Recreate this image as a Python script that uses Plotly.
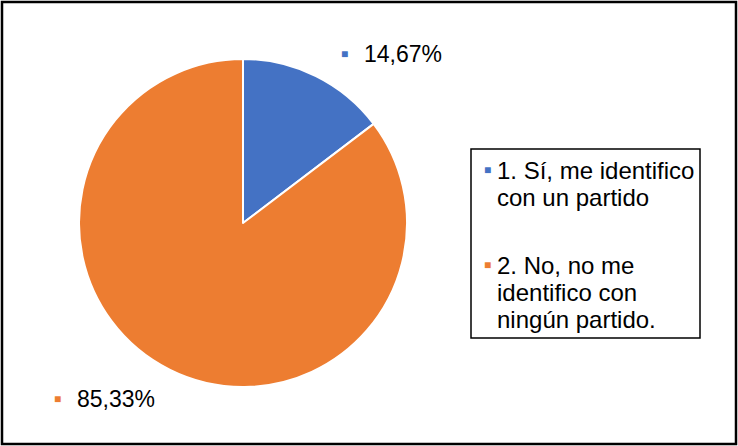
import plotly.graph_objects as go

labels = ["1. Sí, me identifico con un partido", "2. No, no me identifico con ningún partido."]
legend_lines = [["1. Sí, me identifico", "con un partido"],
                ["2. No, no me", "identifico con", "ningún partido."]]
values = [14.67, 85.33]
colors = ["#4472C4", "#ED7D31"]

W, H = 738, 446
FONT = "Liberation Sans, Arial, sans-serif"


def px(x):
    return x / W


def py(y):
    return 1 - y / H


fig = go.Figure()

fig.add_trace(go.Pie(
    labels=labels,
    values=values,
    sort=False,
    direction="clockwise",
    rotation=0,
    textinfo="none",
    hoverinfo="label+percent",
    marker=dict(colors=colors, line=dict(color="white", width=2)),
    domain=dict(x=[px(79), px(407)], y=[py(387), py(59)]),
    showlegend=False,
))

annotations = []
shapes = []

# data labels with small square markers
label_pos = [(344, 54), (57, 399)]
for v, c, (lx, ly) in zip(values, colors, label_pos):
    txt = f"{v:.2f}".replace(".", ",") + "%"
    annotations.append(dict(
        x=px(lx), y=py(ly), xref="paper", yref="paper",
        xanchor="center", yanchor="middle", showarrow=False,
        text=f"<span style='color:{c}'>■</span>",
        font=dict(family=FONT, size=12),
    ))
    annotations.append(dict(
        x=px(lx + 18), y=py(ly), xref="paper", yref="paper",
        xanchor="left", yanchor="middle", showarrow=False,
        text=txt, font=dict(family=FONT, size=23, color="black"),
    ))

# custom legend box
shapes.append(dict(type="rect", xref="paper", yref="paper",
                   x0=px(471), x1=px(700), y0=py(338), y1=py(149),
                   line=dict(color="black", width=1.5), fillcolor="white"))
legend_top = [170, 265]
line_h = 27
for lines, c, top in zip(legend_lines, colors, legend_top):
    annotations.append(dict(
        x=px(487), y=py(top), xref="paper", yref="paper",
        xanchor="center", yanchor="middle", showarrow=False,
        text=f"<span style='color:{c}'>■</span>",
        font=dict(family=FONT, size=12),
    ))
    for i, ln in enumerate(lines):
        annotations.append(dict(
            x=px(495), y=py(top + i * line_h), xref="paper", yref="paper",
            xanchor="left", yanchor="middle", showarrow=False,
            text=ln, font=dict(family=FONT, size=24, color="black"),
        ))

# outer chart border
shapes.append(dict(type="rect", xref="paper", yref="paper",
                   x0=px(2), x1=px(736), y0=py(444), y1=py(2),
                   line=dict(color="black", width=2.5)))

fig.update_layout(
    width=W, height=H,
    margin=dict(l=0, r=0, t=0, b=0),
    paper_bgcolor="white",
    plot_bgcolor="white",
    shapes=shapes,
    annotations=annotations,
)

# drop the browser's default body margin so the chart sits at the page corner
fig.write_html("out.html", config={"displayModeBar": False},
               post_script="document.body.style.margin='0';")
